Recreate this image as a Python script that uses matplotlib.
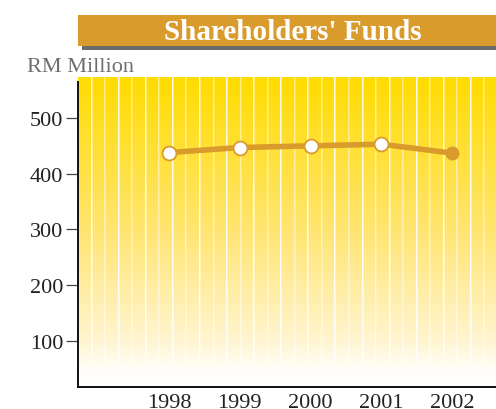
import numpy as np
import matplotlib
matplotlib.use("Agg")
import matplotlib.pyplot as plt
from matplotlib.patches import Rectangle

years = ["1998", "1999", "2000", "2001", "2002"]
funds = [438, 447, 450, 453, 437]
yticks = [100, 200, 300, 400, 500]

W, H = 496, 410
fig = plt.figure(figsize=(W / 100, H / 100), dpi=100)
fig.patch.set_facecolor("white")

def fx(px):
    return px / W

def fy(py):
    return 1 - py / H

# Title banner with shadow
fig.patches.append(Rectangle((fx(82), fy(51)), fx(496 - 82), (51 - 46) / H,
                             transform=fig.transFigure, facecolor="#6b6b6b", edgecolor="none"))
fig.patches.append(Rectangle((fx(78), fy(47)), fx(496 - 78), (47 - 16) / H,
                             transform=fig.transFigure, facecolor="#d99b2b", edgecolor="none"))
fig.text(fx(293), fy(32), "Shareholders' Funds", color="white", fontsize=21,
         family="Liberation Serif", fontweight="bold", ha="center", va="center")
fig.text(fx(27), fy(67), "RM Million", color="#6e6e6e", fontsize=16,
         family="Liberation Serif", ha="left", va="center")

ax_left, ax_right, ax_top, ax_bot = 78, 496, 78, 388
ax = fig.add_axes([fx(ax_left), fy(ax_bot), fx(ax_right - ax_left), (ax_bot - ax_top) / H])

# Background gradient with light vertical stripes
gw, gh = ax_right - ax_left, ax_bot - ax_top
t = np.linspace(0, 1, gh)[:, None]
stops_t = [0.0, 0.5, 0.85, 0.95, 1.0]
stops_c = np.array([[255, 220, 0], [255, 229, 115], [255, 245, 208], [255, 254, 250], [255, 255, 255]]) / 255.0
img = np.zeros((gh, gw, 3))
for c in range(3):
    img[:, :, c] = np.interp(t, stops_t, stops_c[:, c])
stripe_fade = np.interp(t[:, 0], [0, 0.9, 0.95], [1, 1, 0])
for k in range(1, 40):
    x = int(round(13.55 * k)) - 1
    if x >= gw:
        break
    a = 0.9 if k % 2 == 1 else 0.5
    for xx in (x, x + 1):
        if xx < gw:
            aa = a * stripe_fade[:, None] * (1.0 if xx == x else 0.5)
            img[:, xx, :] = img[:, xx, :] + aa * (1 - img[:, xx, :])
ax.imshow(img, extent=(0, 1, 0, 1), transform=ax.transAxes, aspect="auto",
          interpolation="nearest", zorder=0)

x = np.arange(len(years))
line_color = "#d99b2b"
ax.plot(x, funds, color=line_color, lw=4.0, zorder=3, solid_capstyle="round")
ax.plot(x[:-1], funds[:-1], "o", ms=10, mfc="white", mec=line_color, mew=1.3, zorder=4)
ax.plot(x[-1:], funds[-1:], "o", ms=9, mfc=line_color, mec=line_color, zorder=4)

ax.set_xlim(-1.286, 4.62)
ax.set_ylim(17.5, 573.5)
ax.set_xticks(x)
ax.set_xticklabels(years)
ax.set_yticks(yticks)
ax.set_yticklabels([str(v) for v in yticks])
for lab in ax.get_xticklabels() + ax.get_yticklabels():
    lab.set_family("Liberation Serif")
    lab.set_fontsize(16)
    lab.set_color("#222222")
ax.tick_params(axis="x", length=0, pad=4)
ax.tick_params(axis="y", length=8.5, width=0.9, color="#444444", pad=2)

for s in ["top", "right"]:
    ax.spines[s].set_visible(False)
for s in ["left", "bottom"]:
    ax.spines[s].set_color("#111111")
    ax.spines[s].set_linewidth(1.4)
    ax.spines[s].set_zorder(5)
ax.spines["left"].set_bounds(17.5, 564)

fig.savefig("out.png", dpi=100)
